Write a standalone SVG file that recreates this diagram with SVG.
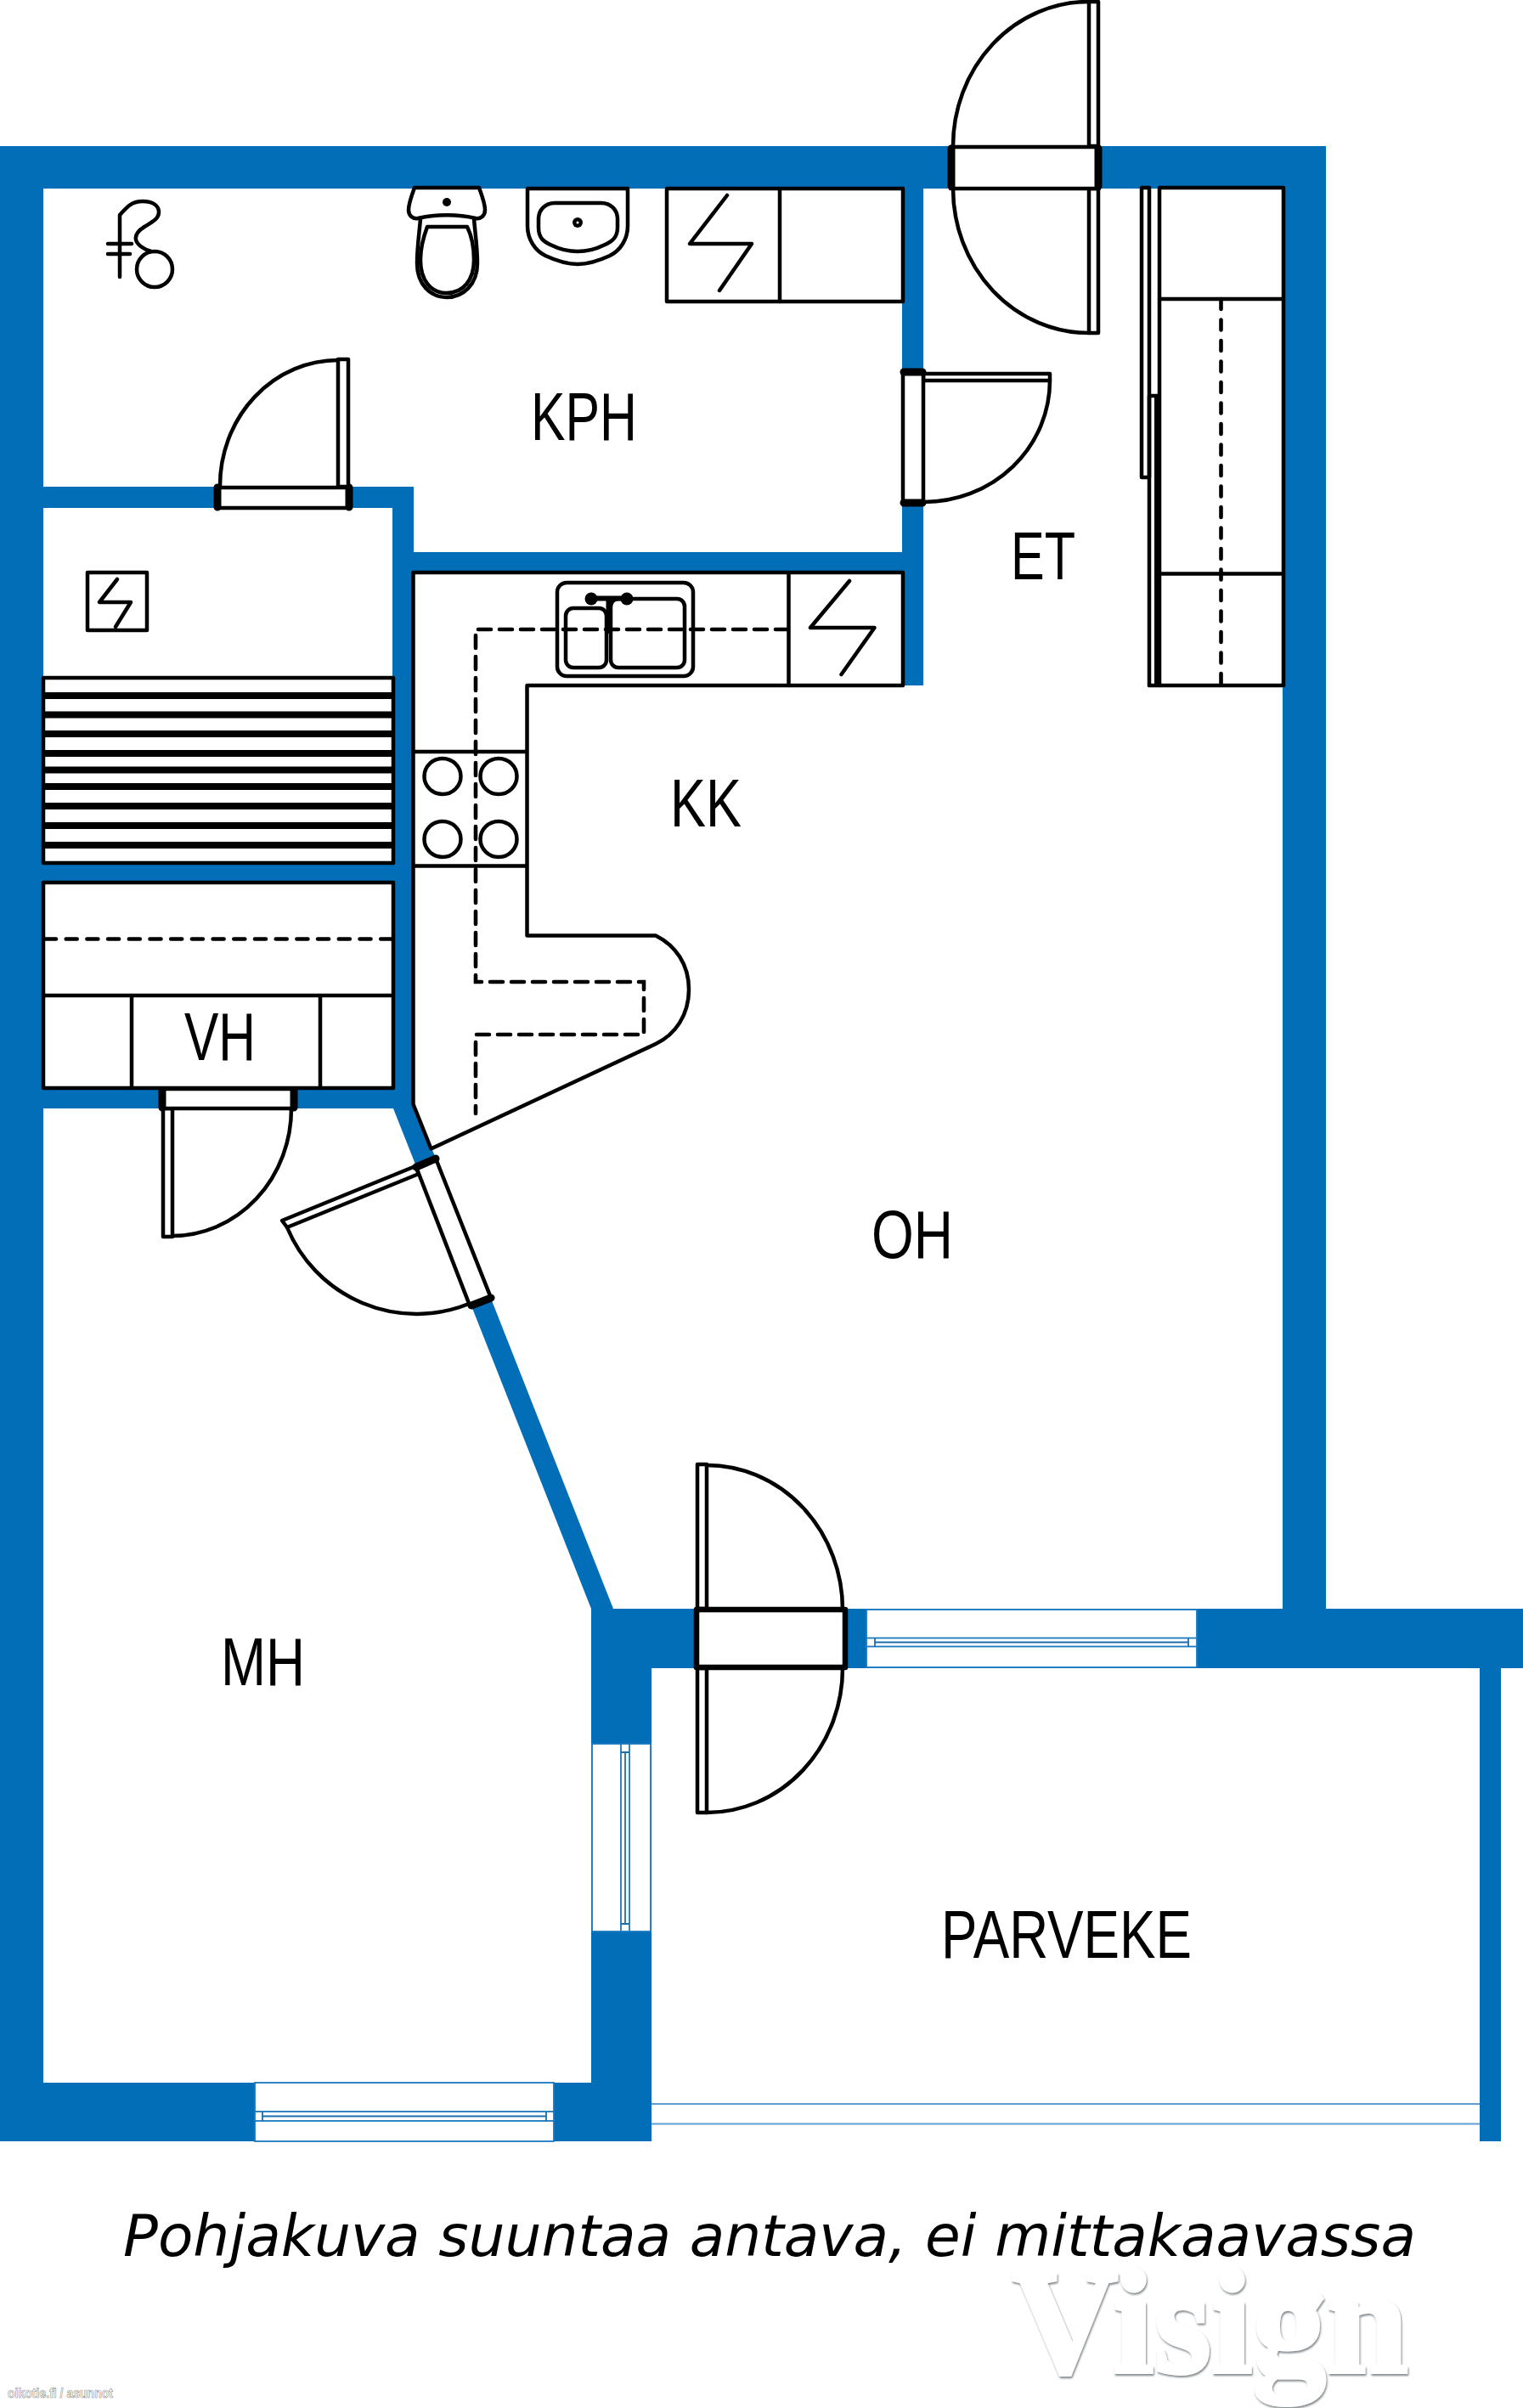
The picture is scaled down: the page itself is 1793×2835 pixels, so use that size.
<svg xmlns="http://www.w3.org/2000/svg" width="1793" height="2835" viewBox="0 0 1793 2835">
<defs>
<filter id="wm" x="-10%" y="-10%" width="120%" height="120%"><feDropShadow dx="1" dy="2" stdDeviation="1.3" flood-color="#80878b"/></filter>
</defs>
<style>
.w{fill:#026eb8}
.win{fill:#fff;stroke:#1a79bf;stroke-width:1.8}
.wl{fill:none;stroke:#1a6fae;stroke-width:1.8}
.k{fill:none;stroke:#000;stroke-width:4.5;stroke-linejoin:round;stroke-linecap:round}
.kw{fill:#fff;stroke:#000;stroke-width:4.5;stroke-linejoin:round;stroke-linecap:round}
.j{fill:none;stroke:#000;stroke-width:9;stroke-linecap:round}
.d{fill:none;stroke:#000;stroke-width:4.6;stroke-linecap:round;stroke-dasharray:14 11}
.t{font-family:"Liberation Sans",Arial,sans-serif;font-size:80px;fill:#000}
</style>
<rect width="1793" height="2835" fill="#fff"/>
<g id="walls" class="w">
<rect x="0" y="172" width="1560" height="50"/>
<rect x="0" y="172" width="51" height="2349"/>
<rect x="0" y="2452" width="767" height="69"/>
<rect x="1510" y="172" width="51" height="1730"/>
<rect x="697" y="1894" width="1096" height="70"/>
<rect x="696" y="1894" width="71" height="627"/>
<rect x="1742" y="1960" width="25" height="561"/>
<rect x="1062" y="172" width="25" height="635"/>
<rect x="462" y="650" width="625" height="25"/>
<rect x="51" y="573" width="436" height="25"/>
<rect x="462" y="573" width="25" height="732"/>
<rect x="51" y="1017" width="420" height="21"/>
<rect x="51" y="1280" width="420" height="25"/>
<polygon points="463,1305 487,1298 722,1894 722,1900 696,1900 696,1894"/>
</g>
<g id="windows">
<g id="window-oh"><rect class="win" x="1020" y="1895" width="389" height="68"/><rect class="win" x="1020" y="1928.5" width="389" height="10"/><path class="wl" d="M1030 1928.5V1938.5M1399 1928.5V1938.5M1030 1933.5H1399"/></g>
<g id="window-mh-side"><rect class="win" x="697" y="2053" width="69" height="221"/><rect class="win" x="731" y="2053" width="10" height="221"/><path class="wl" d="M731 2063H741M731 2265H741M736 2063V2265"/></g>
<g id="window-mh-bottom"><rect class="win" x="300" y="2452" width="352" height="69"/><rect class="win" x="300" y="2486" width="352" height="11"/><path class="wl" d="M309 2486V2497M643 2486V2497M309 2491.5H643"/></g>
<path id="balcony-rail" fill="none" stroke="#5f9ed3" stroke-width="2" d="M767 2477H1742M767 2500.5H1742"/>
</g>
<g id="door-entrance">
<path class="kw" d="M1282 2A160 170 0 0 0 1122 172"/><path class="kw" d="M1122 222A160 170 0 0 0 1282 392"/>
<rect class="kw" x="1282" y="2" width="11" height="170"/><rect class="kw" x="1282" y="222" width="11" height="170"/>
<rect class="kw" x="1119" y="173" width="175" height="49"/>
<path class="j" d="M1120 175V219M1293 175V219"/>
</g>
<g id="door-kph">
<path class="k" d="M398 424A139 148 0 0 0 259 572"/><rect class="kw" x="398" y="423" width="12" height="150"/>
<rect class="kw" x="256" y="574" width="156" height="24"/><path class="j" d="M256 574V597M411 574V597"/>
</g>
<g id="door-et">
<path class="k" d="M1236 448A148 143 0 0 1 1088 591"/><rect class="kw" x="1087" y="440" width="149" height="8"/>
<rect class="kw" x="1063" y="438" width="24" height="155"/><path class="j" d="M1064 438H1086M1064 592H1086"/>
</g>
<g id="door-vh">
<path class="k" d="M203 1455A140 150 0 0 0 343 1305"/><rect class="kw" x="192" y="1305" width="11" height="151"/>
<rect class="kw" x="191" y="1282" width="155" height="23"/><path class="j" d="M191 1283V1304M346 1283V1304"/>
</g>
<g id="door-mh">
<path class="k" d="M338 1445A165 165 0 0 0 552 1535"/>
<polygon class="kw" points="332,1437 489,1373 493,1382 338,1445"/>
<polygon class="kw" points="490,1374 513,1364 578,1528 553,1537"/>
<path class="j" d="M490 1374L513 1364M555 1537L578 1528"/>
</g>
<g id="door-balcony">
<path class="kw" d="M832 1725A160 170 0 0 1 992 1895"/><path class="kw" d="M992 1963A160 170 0 0 1 832 2134"/>
<rect class="kw" x="821" y="1724" width="11" height="170"/><rect class="kw" x="821" y="1964" width="11" height="170"/>
<rect class="kw" x="820" y="1895" width="175" height="68" style="stroke-width:6.5"/>
</g>
<g id="shower">
<path class="k" d="M141 326V253C150 243 155 237 168 237C180 237 187 242 187 250C187 258 178 262 170 267C162 272 159 277 160 282C161 288 170 294 178 296M127 287H155M127 299H153"/>
<ellipse class="k" cx="182" cy="317" rx="21" ry="21"/>
</g>
<g id="toilet">
<path class="k" d="M495 257C494 272 491 290 491 310C491 335 507 350 526 350C545 350 562 335 562 310C562 290 559 272 558 257"/>
<path class="k" d="M495 306C495 290 500 275 503 267H550C554 275 558 290 558 306C558 330 545 345 526 345C507 345 495 330 495 306Z"/>
<path class="kw" d="M488 221H564C568 232 571 240 571 247C571 254 566 258 560 257C540 252 512 252 492 257C486 258 481 254 481 247C481 240 484 232 488 221Z"/>
<circle cx="526" cy="238" r="5"/>
</g>
<g id="washbasin">
<path class="k" d="M621 222V266C621 282 630 295 642 301C655 307 667 311 680 311C693 311 705 307 718 301C730 295 739 282 739 266V222Z"/>
<path class="k" d="M634 258C634 247 642 239 653 239H708C719 239 727 247 727 258V268C727 280 720 285 710 289C700 294 690 296 680 296C670 296 660 294 650 289C640 285 634 280 634 268Z"/>
<circle cx="680" cy="262" r="6"/><circle cx="680" cy="262" r="1.5" fill="#fff"/>
</g>
<g id="kph-cabinet">
<rect class="k" x="785" y="222" width="278" height="133"/><path class="k" d="M918 222V355"/>
<path class="k" d="M856 230L812 287H885L847 342"/>
</g>
<g id="electric-box">
<rect class="k" x="103" y="674" width="70" height="68"/>
<path class="k" d="M138 682L117 709H154L136 738"/>
</g>
<g id="sauna-bench">
<rect class="kw" x="51" y="798" width="412" height="218"/>
<path fill="none" stroke="#000" stroke-width="8" d="M51 819H463M51 841.5H463M51 864H463M51 887H463M51 906.5H463M51 926H463M51 949H463M51 972H463M51 995H463"/>
</g>
<g id="wardrobe">
<rect class="kw" x="51" y="1039" width="412" height="242"/>
<path class="k" d="M51 1172H463M155 1172V1281M377 1172V1281"/>
<path class="d" d="M53 1105.5H461" style="stroke-dasharray:13 11.7"/>
</g>
<g id="et-closet">
<rect class="k" x="1344" y="221" width="9" height="341"/>
<path class="k" d="M1353 807V466H1364"/>
<rect x="1359" y="466" width="8" height="341"/>
<rect class="k" x="1365" y="221" width="146" height="586"/>
<path class="k" d="M1365 352H1511M1365 675.5H1511M1353 807H1365"/>
<path class="d" d="M1437.5 352V807" style="stroke-dasharray:12 12.5"/>
</g>
<g id="kitchen">
<path class="k" d="M1063 674H486.5V1300L507.5 1352.5L772 1229C795 1218 811 1195 811 1165C811 1135 795 1113 772 1101.5H620.5V807H1063Z"/>
<path class="k" d="M928.5 674V807M487 885H620M487 1019.5H620"/>
<ellipse class="k" cx="521" cy="914" rx="21.5" ry="21"/><ellipse class="k" cx="587" cy="914" rx="21.5" ry="21"/>
<ellipse class="k" cx="521" cy="988" rx="21.5" ry="21"/><ellipse class="k" cx="587" cy="988" rx="21.5" ry="21"/>
<rect class="k" x="656" y="686" width="160" height="110" rx="11"/>
<rect class="k" x="666" y="716" width="48" height="70" rx="9"/>
<rect class="k" x="719" y="705" width="87" height="81" rx="9"/>
<path fill="none" stroke="#000" stroke-width="6" d="M696 704.5H738"/><path fill="none" stroke="#000" stroke-width="7" d="M717 704V746"/>
<circle cx="696" cy="705" r="7.5"/><circle cx="738" cy="705" r="7.5"/>
<path class="d" d="M928 741H560V1156H758V1218H560V1311" style="stroke-dasharray:15 10"/>
<path class="k" d="M1000 684L954 739H1029.5L990.5 794"/>
</g>
<g id="labels">
<text class="t" x="625" y="517.5" textLength="125" lengthAdjust="spacingAndGlyphs">KPH</text>
<text class="t" x="1190" y="682" textLength="76" lengthAdjust="spacingAndGlyphs">ET</text>
<text class="t" x="789" y="973" textLength="84" lengthAdjust="spacingAndGlyphs">KK</text>
<text class="t" x="217" y="1248" textLength="84" lengthAdjust="spacingAndGlyphs">VH</text>
<text class="t" x="1026" y="1481" textLength="96" lengthAdjust="spacingAndGlyphs">OH</text>
<text class="t" x="260" y="1984" textLength="99" lengthAdjust="spacingAndGlyphs">MH</text>
<text class="t" x="1108" y="2305" textLength="295" lengthAdjust="spacingAndGlyphs">PARVEKE</text>
<text x="145" y="2656" font-family="'DejaVu Sans',Verdana,sans-serif" font-style="italic" font-size="68" fill="#000" textLength="1522" lengthAdjust="spacingAndGlyphs">Pohjakuva suuntaa antava, ei mittakaavassa</text>
<text x="1191" y="2793" font-family="'Liberation Serif','Times New Roman',serif" font-weight="bold" font-size="175" fill="#fff" stroke="#fff" stroke-width="4" filter="url(#wm)" textLength="467" lengthAdjust="spacingAndGlyphs">Visign</text>
<text x="9" y="2823" font-family="'Liberation Sans',Arial,sans-serif" font-weight="bold" font-size="16" fill="#fff" stroke="#999" stroke-width="0.7" textLength="124" lengthAdjust="spacingAndGlyphs">oikotie.fi / asunnot</text>
</g>
</svg>
